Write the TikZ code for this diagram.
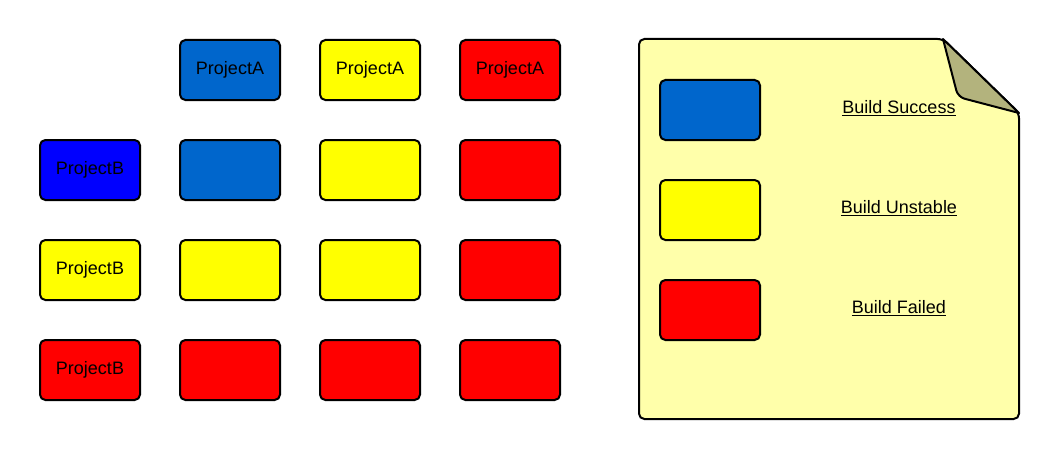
\documentclass[tikz,border=0pt]{standalone}
\usepackage{fontspec}
\setmainfont{Liberation Sans}
\definecolor{cblue}{HTML}{0066CC}
\definecolor{pblue}{HTML}{0000FF}
\definecolor{cyel}{HTML}{FFFF00}
\definecolor{cred}{HTML}{FF0000}
\definecolor{notefill}{HTML}{FFFFAA}
\definecolor{foldfill}{HTML}{B3B37D}
\begin{document}
\begin{tikzpicture}[x=0.75pt,y=-0.75pt,
  cell/.style={draw=black,line width=1.5pt,rounded corners=4pt,minimum width=75pt,minimum height=45pt,inner sep=0pt,anchor=north west,font=\fontsize{13.5}{15}\selectfont},
  lbl/.style={font=\fontsize{13.5}{15}\selectfont,inner sep=1pt}]
\useasboundingbox (1,1) rectangle (1061,461);
% grid
\node[cell,fill=cblue] (a1) at (180,40) {\raisebox{1.5pt}{ProjectA}};
\node[cell,fill=cyel] (a2) at (320,40) {\raisebox{1.5pt}{ProjectA}};
\node[cell,fill=cred] (a3) at (460,40) {\raisebox{1.5pt}{ProjectA}};
\node[cell,fill=pblue] (b1) at (40,140) {\raisebox{1.5pt}{ProjectB}};
\node[cell,fill=cyel] (b2) at (40,240) {\raisebox{1.5pt}{ProjectB}};
\node[cell,fill=cred] (b3) at (40,340) {\raisebox{1.5pt}{ProjectB}};
\node[cell,fill=cblue] (c11) at (180,140) {};
\node[cell,fill=cyel] (c12) at (320,140) {};
\node[cell,fill=cred] (c13) at (460,140) {};
\node[cell,fill=cyel] (c21) at (180,240) {};
\node[cell,fill=cyel] (c22) at (320,240) {};
\node[cell,fill=cred] (c23) at (460,240) {};
\node[cell,fill=cred] (c31) at (180,340) {};
\node[cell,fill=cred] (c32) at (320,340) {};
\node[cell,fill=cred] (c33) at (460,340) {};
% note
\draw[line width=1.5pt,fill=notefill,rounded corners=4pt]
  (640,40) -- (944,40) -- (1020,114) -- (1020,420) -- (640,420) -- cycle;
\draw[line width=1.5pt,fill=foldfill,line join=round]
  (944,40) [rounded corners=5pt] -- (959,98) [sharp corners] -- (1020,114) -- cycle;
% legend
\node[cell,fill=cblue] (l1) at (660,80) {};
\node[cell,fill=cyel] (l2) at (660,180) {};
\node[cell,fill=cred] (l3) at (660,280) {};
\node[lbl] (t1) at (900,109) {\underline{Build Success}};
\node[lbl] (t2) at (900,209) {\underline{Build Unstable}};
\node[lbl] (t3) at (900,309) {\underline{Build Failed}};
\end{tikzpicture}
\end{document}
